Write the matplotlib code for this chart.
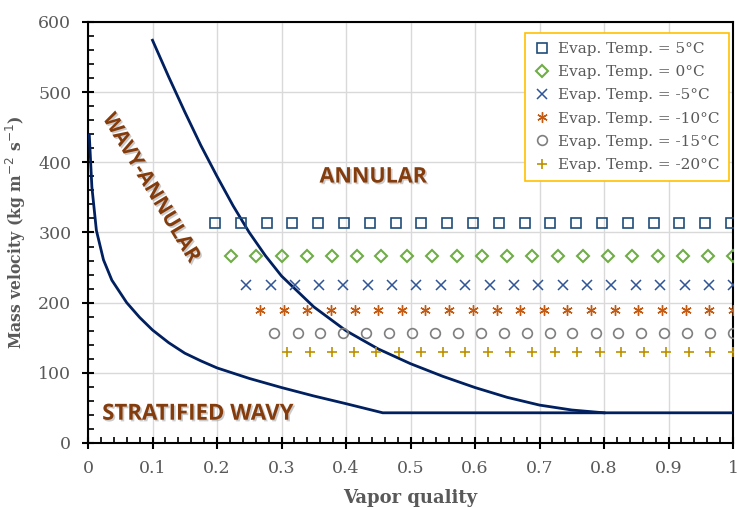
import matplotlib.pyplot as plt
import matplotlib.patheffects as pe
from matplotlib.ticker import MultipleLocator

# scatter series (vapor quality, mass velocity)
x_5 = [0.197, 0.237, 0.277, 0.317, 0.357, 0.397, 0.437, 0.477, 0.517, 0.557, 0.597,
       0.637, 0.677, 0.717, 0.757, 0.797, 0.837, 0.877, 0.917, 0.957, 0.997]
x_0 = [0.222, 0.261, 0.300, 0.339, 0.378, 0.417, 0.455, 0.494, 0.533, 0.572, 0.611,
       0.650, 0.689, 0.728, 0.767, 0.806, 0.844, 0.883, 0.922, 0.961, 1.0]
x_m5 = [0.245, 0.283, 0.321, 0.358, 0.396, 0.434, 0.472, 0.509, 0.547, 0.585, 0.623,
        0.660, 0.698, 0.736, 0.774, 0.811, 0.849, 0.887, 0.925, 0.962, 1.0]
x_m10 = [0.267, 0.304, 0.340, 0.377, 0.414, 0.450, 0.487, 0.523, 0.560, 0.597, 0.634,
         0.670, 0.707, 0.743, 0.780, 0.817, 0.853, 0.890, 0.927, 0.963, 1.0]
x_m15 = [0.289, 0.325, 0.360, 0.396, 0.431, 0.467, 0.502, 0.538, 0.573, 0.609, 0.645,
         0.680, 0.716, 0.751, 0.787, 0.822, 0.858, 0.893, 0.929, 0.964, 1.0]
x_m20 = [0.309, 0.344, 0.378, 0.413, 0.447, 0.482, 0.516, 0.551, 0.585, 0.620, 0.655,
         0.689, 0.724, 0.758, 0.793, 0.827, 0.862, 0.896, 0.931, 0.965, 1.0]
g_5, g_0, g_m5, g_m10, g_m15, g_m20 = 314, 267, 225, 189, 157, 130

# transition curves
strat_x = [0.002, 0.006, 0.013, 0.024, 0.037, 0.06, 0.08, 0.1, 0.125, 0.15, 0.175,
           0.2, 0.25, 0.3, 0.35, 0.4, 0.457, 1.0]
strat_y = [439, 365, 303, 261, 232, 200, 179, 161, 143, 128, 117,
           107, 92, 79, 67, 56, 43, 43]
annular_x = [0.1, 0.125, 0.15, 0.175, 0.2, 0.225, 0.25, 0.275, 0.3, 0.35, 0.4,
             0.45, 0.5, 0.55, 0.6, 0.65, 0.7, 0.75, 0.8]
annular_y = [574, 522, 472, 424, 380, 338, 300, 267, 238, 194, 160,
             134, 113, 95, 79, 65, 54, 47, 43]

navy = "#002060"
brown = "#843C0C"
grey = "#595959"

fig = plt.figure(figsize=(7.37, 5.08), dpi=100)
ax = fig.add_axes([0.1194, 0.128, 0.8752, 0.8287])

ax.plot(strat_x, strat_y, color=navy, lw=2, zorder=3)
ax.plot(annular_x, annular_y, color=navy, lw=2, zorder=3)

ms = 7
ax.plot(x_5, [g_5] * len(x_5), ls="none", marker="s", ms=ms, mfc="none",
        mec="#1F4E79", mew=1.2, label="Evap. Temp. = 5°C", zorder=4)
ax.plot(x_0, [g_0] * len(x_0), ls="none", marker="D", ms=6.5, mfc="none",
        mec="#70AD47", mew=1.5, label="Evap. Temp. = 0°C", zorder=4)
ax.plot(x_m5, [g_m5] * len(x_m5), ls="none", marker="x", ms=ms, color="#2F5597",
        mew=1.1, label="Evap. Temp. = -5°C", zorder=4)
ax.plot(x_m10, [g_m10] * len(x_m10), ls="none", marker=(6, 2, 0), ms=7.5,
        color="#C55A11", mew=1.0, label="Evap. Temp. = -10°C", zorder=4)
ax.plot(x_m15, [g_m15] * len(x_m15), ls="none", marker="o", ms=ms, mfc="none",
        mec="#7F7F7F", mew=1.2, label="Evap. Temp. = -15°C", zorder=4)
ax.plot(x_m20, [g_m20] * len(x_m20), ls="none", marker="+", ms=ms, color="#BF9000",
        mew=1.2, label="Evap. Temp. = -20°C", zorder=4)

ax.set_xlim(0, 1)
ax.set_ylim(0, 600)
ax.xaxis.set_major_locator(MultipleLocator(0.1))
ax.xaxis.set_minor_locator(MultipleLocator(0.02))
ax.yaxis.set_major_locator(MultipleLocator(100))
ax.yaxis.set_minor_locator(MultipleLocator(20))
ax.set_xticks([0, 0.1, 0.2, 0.3, 0.4, 0.5, 0.6, 0.7, 0.8, 0.9, 1.0])
ax.set_xticklabels(["0", "0.1", "0.2", "0.3", "0.4", "0.5", "0.6", "0.7", "0.8", "0.9", "1"])
ax.grid(which="major", color="#D9D9D9", lw=1, zorder=0)
ax.set_axisbelow(True)

for s in ax.spines.values():
    s.set_color("black")
    s.set_linewidth(1.5)

ax.tick_params(which="major", direction="inout", length=8, width=1.5,
               labelsize=12.5, labelcolor=grey, pad=8)
ax.tick_params(which="minor", direction="in", length=4, width=1.2)
for lab in ax.get_xticklabels() + ax.get_yticklabels():
    lab.set_family("DejaVu Serif")

ax.set_xlabel("Vapor quality", fontsize=13, fontweight="bold", color=grey,
              family="DejaVu Serif", labelpad=9)
ax.set_ylabel("Mass velocity (kg m$^{-2}$ s$^{-1}$)", fontsize=12.5, fontweight="bold",
              color=grey, family="DejaVu Serif", fontstretch="condensed", labelpad=7)

shadow = [pe.withSimplePatchShadow(offset=(1.2, -1.2), shadow_rgbFace="#999999", alpha=0.5)]
ax.text(0.0977, 363, "WAVY-ANNULAR", rotation=-59, rotation_mode="anchor",
        ha="center", va="center", fontsize=15, fontweight="bold", color=brown,
        family="Open Sans", path_effects=shadow)
ax.text(0.442, 379, "ANNULAR", ha="center", va="center", fontsize=15.5,
        fontweight="bold", color=brown, family="Open Sans", path_effects=shadow)
ax.text(0.022, 41, "STRATIFIED WAVY", ha="left", va="center", fontsize=16,
        fontweight="bold", color=brown, family="Open Sans", path_effects=shadow)

leg = ax.legend(loc="upper right", bbox_to_anchor=(0.994, 0.974), borderaxespad=0,
                fancybox=False, framealpha=1, edgecolor="#FFC000", handlelength=1.0,
                handletextpad=0.6, labelspacing=0.6, borderpad=0.6,
                prop={"family": "DejaVu Serif", "size": 11})
leg.get_frame().set_linewidth(1.2)
for t in leg.get_texts():
    t.set_color(grey)

fig.savefig("out.png", dpi=100)
